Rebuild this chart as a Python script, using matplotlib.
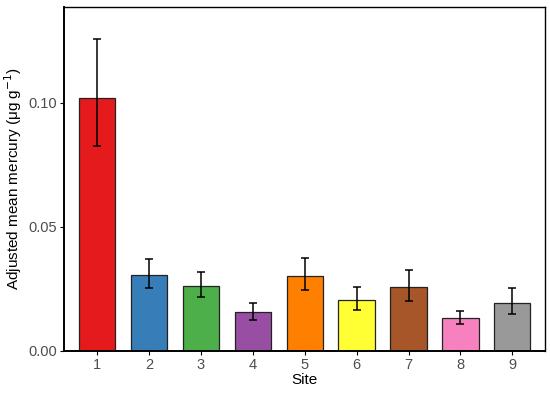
import matplotlib
matplotlib.use("Agg")
import matplotlib.pyplot as plt

sites = ["1", "2", "3", "4", "5", "6", "7", "8", "9"]
means = [0.1019, 0.0308, 0.0262, 0.0156, 0.0302, 0.0207, 0.0258, 0.0133, 0.0195]
upper = [0.1258, 0.0371, 0.0317, 0.0194, 0.0374, 0.0258, 0.0328, 0.0161, 0.0255]
lower = [0.0825, 0.0255, 0.0216, 0.0125, 0.0245, 0.0164, 0.0202, 0.0109, 0.0148]
colors = ["#E41A1C", "#377EB8", "#4DAF4A", "#984EA3", "#FF7F00",
          "#FFFF33", "#A65628", "#F781BF", "#999999"]

plt.rcParams["font.family"] = ["Liberation Sans", "DejaVu Sans"]

fig = plt.figure(figsize=(5.5, 3.93), dpi=100)
ax = fig.add_axes([0.1164, 0.1069, 0.8745, 0.8753])

x = list(range(1, len(sites) + 1))
ax.bar(x, means, width=0.7, color=colors, edgecolor="#222222", linewidth=0.9, zorder=2)
err = [[m - l for m, l in zip(means, lower)], [u - m for u, m in zip(upper, means)]]
ax.errorbar(x, means, yerr=err, fmt="none", ecolor="black", elinewidth=1.1,
            capsize=3, capthick=1.1, zorder=3)

ax.set_xlim(0.36, 9.63)
ax.set_ylim(0, 0.1387)
ax.set_xticks(x)
ax.set_xticklabels(sites)
ax.set_yticks([0.0, 0.05, 0.10])
ax.set_yticklabels(["0.00", "0.05", "0.10"])
ax.tick_params(axis="both", colors="black", labelcolor="#4d4d4d", labelsize=10.5,
               length=3, width=0.8, pad=2)

for side in ["top", "right"]:
    ax.spines[side].set_linewidth(1.0)
for side in ["left", "bottom"]:
    ax.spines[side].set_linewidth(1.4)

ax.set_xlabel("Site", fontsize=11, labelpad=1)
ax.set_ylabel(r"Adjusted mean mercury ($\mathregular{\mu}$g g$^{-1}$)", fontsize=11, labelpad=3)

fig.savefig("out.png", dpi=100)
